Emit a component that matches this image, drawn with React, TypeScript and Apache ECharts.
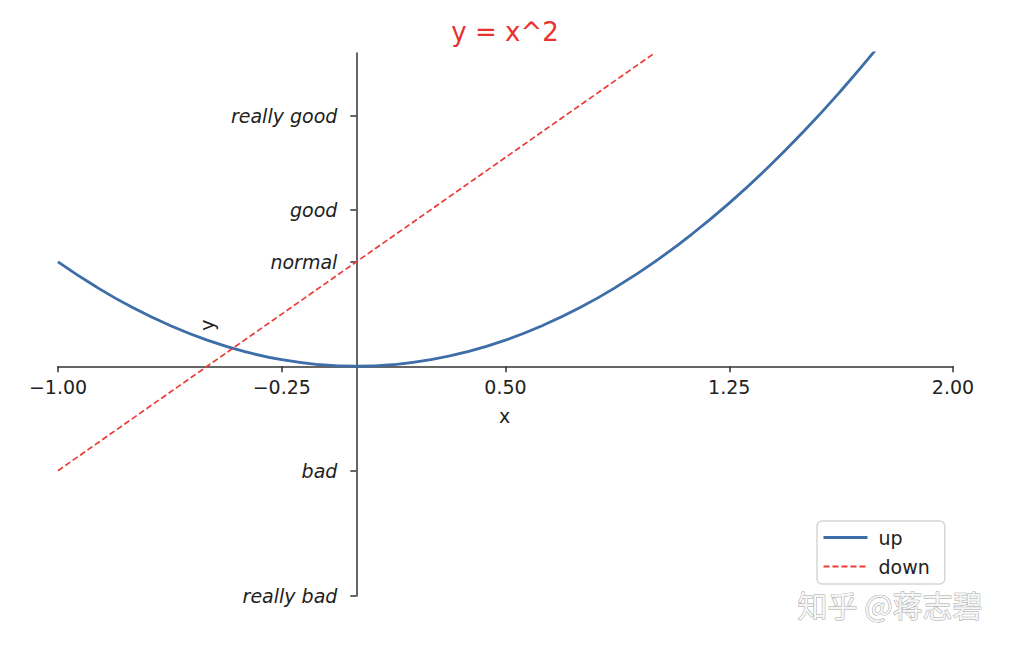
import React, { useEffect, useRef } from 'react';
import * as echarts from 'echarts';

// 曲线 y = x^2 的采样点
const upX = [-1, -0.875, -0.75, -0.625, -0.5, -0.375, -0.25, -0.125, 0, 0.125, 0.25, 0.375, 0.5, 0.625, 0.75, 0.875, 1, 1.125, 1.25, 1.375, 1.5, 1.625, 1.75];
const upY = [1, 0.766, 0.5625, 0.391, 0.25, 0.141, 0.0625, 0.016, 0, 0.016, 0.0625, 0.141, 0.25, 0.391, 0.5625, 0.766, 1, 1.266, 1.5625, 1.891, 2.25, 2.641, 3.0625];

// 红色虚线的两个端点
const downX = [-1, 1];
const downY = [-1, 3];

// 坐标范围与刻度
const xMin = -1;
const xMax = 2;
const yMin = -2.2;
const yMax = 3;
const xTickValues = [-1, -0.25, 0.5, 1.25, 2];
const yTickValues = [-2.2, -1, 1, 1.5, 2.4];
const yTickLabels = ['really bad', 'bad', 'normal', 'good', 'really good'];

const FONT = 'DejaVu Sans';
const W = 1010;
const H = 646;
const GRID = { left: 58, right: 57, top: 53, bottom: 50 };

const App: React.FC = () => {
  const chartRef = useRef<HTMLDivElement>(null);

  useEffect(() => {
    if (!chartRef.current) return;
    const chart = echarts.init(chartRef.current, undefined, { renderer: 'svg' });

    // 把坐标轴移到 0 的位置（类似 matplotlib 的 spines set_position）
    const gridW = W - GRID.left - GRID.right;
    const gridH = H - GRID.top - GRID.bottom;
    const xAxisOffset = -((0 - yMin) / (yMax - yMin)) * gridH;
    const yAxisOffset = -((0 - xMin) / (xMax - xMin)) * gridW;

    const option: any = {
      animation: false,
      backgroundColor: '#fff',
      title: {
        text: 'y = x^2',
        left: 'center',
        top: 14,
        textStyle: { color: '#e8322f', fontSize: 26, fontWeight: 'normal', fontFamily: FONT }
      },
      legend: {
        orient: 'vertical',
        left: 817,
        top: 521,
        padding: [7, 15, 8, 5],
        itemWidth: 44,
        itemHeight: 20,
        itemGap: 10,
        itemStyle: { opacity: 0 },
        backgroundColor: '#fff',
        borderColor: '#d6d6d6',
        borderWidth: 1.5,
        borderRadius: 5,
        textStyle: { color: '#222', fontSize: 19, fontFamily: FONT, padding: [0, 0, 0, 6] },
        data: [
          { name: 'up', lineStyle: { width: 3 } },
          { name: 'down', lineStyle: { width: 1.8 } }
        ]
      },
      grid: {
        ...GRID,
        containLabel: false,
        outerBoundsMode: 'none'
      },
      xAxis: {
        type: 'value',
        min: xMin,
        max: xMax,
        position: 'bottom',
        offset: xAxisOffset,
        axisLine: { onZero: false, lineStyle: { color: '#333', width: 1.5 } },
        axisTick: { show: true, length: 6, inside: false, customValues: xTickValues, lineStyle: { color: '#333', width: 1.5 } },
        axisLabel: {
          customValues: xTickValues,
          margin: 11,
          color: '#222',
          fontSize: 19,
          fontFamily: FONT,
          formatter: (v: number) => v.toFixed(2).replace('-', '\u2212')
        },
        splitLine: { show: false }
      },
      yAxis: {
        type: 'value',
        min: yMin,
        max: yMax,
        position: 'left',
        offset: yAxisOffset,
        axisLine: { show: true, onZero: false, lineStyle: { color: '#333', width: 1.5 } },
        axisTick: { show: true, length: 6, inside: false, customValues: yTickValues, lineStyle: { color: '#333', width: 1.5 } },
        axisLabel: {
          customValues: yTickValues,
          margin: 19,
          color: '#222',
          fontSize: 19,
          fontStyle: 'italic',
          fontFamily: FONT,
          formatter: (v: number) => {
            const i = yTickValues.findIndex(t => Math.abs(t - v) < 1e-6);
            return i >= 0 ? yTickLabels[i] : '';
          }
        },
        splitLine: { show: false }
      },
      graphic: [
        {
          type: 'text',
          left: 499,
          top: 406,
          style: { text: 'x', fill: '#222', fontSize: 19, fontFamily: FONT }
        },
        {
          type: 'text',
          x: 207,
          y: 325,
          rotation: Math.PI / 2,
          style: { text: 'y', fill: '#222', fontSize: 19, fontFamily: FONT, align: 'center', verticalAlign: 'middle' }
        },
        {
          type: 'text',
          left: 797,
          top: 588,
          style: {
            text: '知乎 @蒋志碧',
            fill: '#f6f6f6',
            stroke: '#a8a8a8',
            lineWidth: 1,
            fontSize: 30,
            fontFamily: 'Noto Sans CJK SC'
          }
        }
      ],
      series: [
        {
          name: 'up',
          type: 'line',
          smooth: true,
          symbol: 'none',
          clip: true,
          lineStyle: { color: '#3d6ea8', width: 2.8 },
          itemStyle: { color: '#3d6ea8' },
          data: upX.map((x, i) => [x, upY[i]])
        },
        {
          name: 'down',
          type: 'line',
          symbol: 'none',
          clip: true,
          lineStyle: { color: '#ea3b36', width: 1.7, type: [6, 3] },
          itemStyle: { color: '#ea3b36' },
          data: downX.map((x, i) => [x, downY[i]])
        }
      ]
    };

    chart.setOption(option);
    return () => {
      chart.dispose();
    };
  }, []);

  return (
    <div
      ref={chartRef}
      style={{ position: 'absolute', left: 0, top: 0, width: `${W}px`, height: `${H}px` }}
    />
  );
};

export default App;
